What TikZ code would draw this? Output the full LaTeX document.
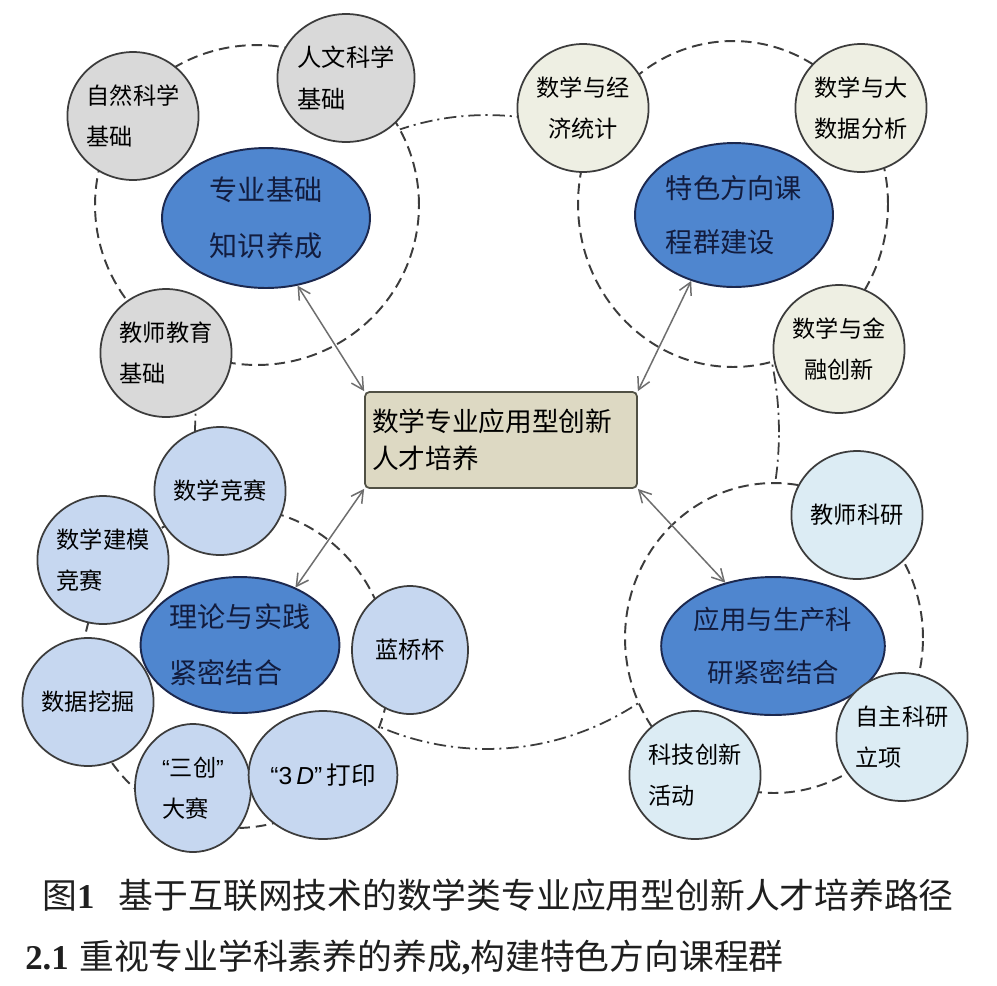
\documentclass[tikz,border=0pt]{standalone}
\usepackage{fontspec}
\newfontfamily\cjk{Noto Sans CJK SC}
\newfontfamily\lat{Liberation Sans}
\newfontfamily\tms{Liberation Serif}
\usetikzlibrary{shapes.geometric,arrows.meta}
\definecolor{lgrey}{RGB}{217,217,217}
\definecolor{lbeige}{RGB}{238,239,227}
\definecolor{lblue}{RGB}{198,215,240}
\definecolor{llblue}{RGB}{220,236,244}
\definecolor{mblue}{RGB}{79,134,207}
\definecolor{navy}{RGB}{28,40,78}
\definecolor{navytxt}{RGB}{18,28,62}
\definecolor{khaki}{RGB}{221,217,195}
\definecolor{khakiline}{RGB}{80,80,68}
\definecolor{lineg}{RGB}{60,60,60}
\definecolor{arrg}{RGB}{110,110,110}
\begin{document}
\begin{tikzpicture}[x=0.02cm,y=-0.02cm,
  dsh/.style={draw=lineg, line width=1.1pt, dash pattern=on 6pt off 3.4pt},
  dshdot/.style={draw=lineg, line width=1pt, dash pattern=on 7pt off 2.8pt on 1.2pt off 2.8pt},
  sm/.style={ellipse, draw=lineg, line width=1pt, minimum width=2.32cm, minimum height=2.56cm,
    inner sep=0pt, align=left, text=black, font=\cjk\fontsize{13.2}{23.5}\selectfont},
  smc/.style={sm, align=center},
  big/.style={ellipse, draw=navy, line width=1.1pt, fill=mblue, inner sep=0pt, align=left,
    text=navytxt, font=\cjk\fontsize{16}{32}\selectfont},
  arr/.style={draw=arrg, line width=0.85pt,
    {Straight Barb[length=2.4mm,width=2.6mm]}-{Straight Barb[length=2.4mm,width=2.6mm]}},
  captxt/.style={inner sep=0pt, text=black!88, font=\cjk\fontsize{19.8}{24}\selectfont}
]
\useasboundingbox (0,0) rectangle (997,985);
\fill[white] (0,0) rectangle (997,985);

% big dash-dot ring linking the four groups
\draw[dshdot] (487,432) ellipse [x radius=5.84cm, y radius=6.34cm];

% group rings
\draw[dsh, fill=white] (257,205) ellipse [x radius=3.24cm, y radius=3.2cm];
\draw[dsh, fill=white] (733,204) ellipse [x radius=3.1cm, y radius=3.26cm];
\draw[dsh, fill=white] (236,668) ellipse [x radius=3.08cm, y radius=3.2cm];
\draw[dsh, fill=white] (774,638) ellipse [x radius=2.98cm, y radius=3.1cm];

% centre
\node[rectangle, rounded corners=2.5pt, draw=khakiline, line width=1pt, fill=khaki,
  minimum height=1.92cm, text width=5.16cm, inner xsep=0.14cm, inner ysep=0pt, align=left,
  font=\cjk\fontsize{15.2}{21}\selectfont] (box) at (501,440) {数学专业应用型创新\\人才培养};

% top-left group
\node[big, minimum width=4.16cm, minimum height=2.8cm] (e1) at (266,218) {专业基础\\知识养成};
\node[sm, fill=lgrey] (a1) at (133,116) {自然科学\\基础};
\node[sm, fill=lgrey, font=\cjk\fontsize{13.8}{23.5}\selectfont] (a2) at (346,78) {人文科学\\基础};
\node[sm, fill=lgrey] (a3) at (166,353) {教师教育\\基础};

% top-right group
\node[big, minimum width=3.96cm, minimum height=2.88cm, font=\cjk\fontsize{15.5}{31}\selectfont] (e2) at (734,215) {特色方向课\\程群建设};
\node[smc, fill=lbeige] (b1) at (583,108) {数学与经\\济统计};
\node[smc, fill=lbeige] (b2) at (861,108) {数学与大\\数据分析};
\node[smc, fill=lbeige] (b3) at (839,349) {数学与金\\融创新};

% bottom-left group
\node[big, minimum width=3.72cm, minimum height=2.72cm] (e3) at (240,645) {理论与实践\\紧密结合};
\node[sm, fill=lblue] (c1) at (220,491) {数学竞赛};
\node[sm, fill=lblue] (c2) at (103,560) {数学建模\\竞赛};
\node[sm, fill=lblue] (c3) at (88,702) {数据挖掘};
\node[sm, fill=lblue] (c4) at (193,788) {{\lat “}三创{\lat ”}\\大赛};
\node[sm, fill=lblue, font=\cjk\fontsize{14}{23.5}\selectfont] (c5) at (323,775) {{\lat “3\,\itshape D\upshape”}\,打印};
\node[sm, fill=lblue] (c6) at (410,650) {蓝桥杯};

% bottom-right group
\node[big, minimum width=3.72cm, minimum height=2.76cm, align=center, font=\cjk\fontsize{15}{30}\selectfont] (e4) at (773,646) {应用与生产科\\研紧密结合};
\node[sm, fill=llblue] (d1) at (857,515) {教师科研};
\node[sm, fill=llblue] (d2) at (902,737) {自主科研\\立项};
\node[sm, fill=llblue] (d3) at (695,775) {科技创新\\活动};

% arrows
\draw[arr] (e1.-65) -- (box.north west);
\draw[arr] (e2.-123) -- (box.north east);
\draw[arr] (box.south west) -- (e3.46);
\draw[arr] (box.south east) -- (e4.127);

% captions
\node[captxt, anchor=west] (cap1) at (42,895) {图{\tms\bfseries 1}\hspace{0.7em}基于互联网技术的数学类专业应用型创新人才培养路径};
\node[captxt, anchor=west] (cap2) at (25,957) {{\tms\bfseries 2.1}\hspace{0.3em}重视专业学科素养的养成{\tms\bfseries ,}构建特色方向课程群};
\end{tikzpicture}
\end{document}
